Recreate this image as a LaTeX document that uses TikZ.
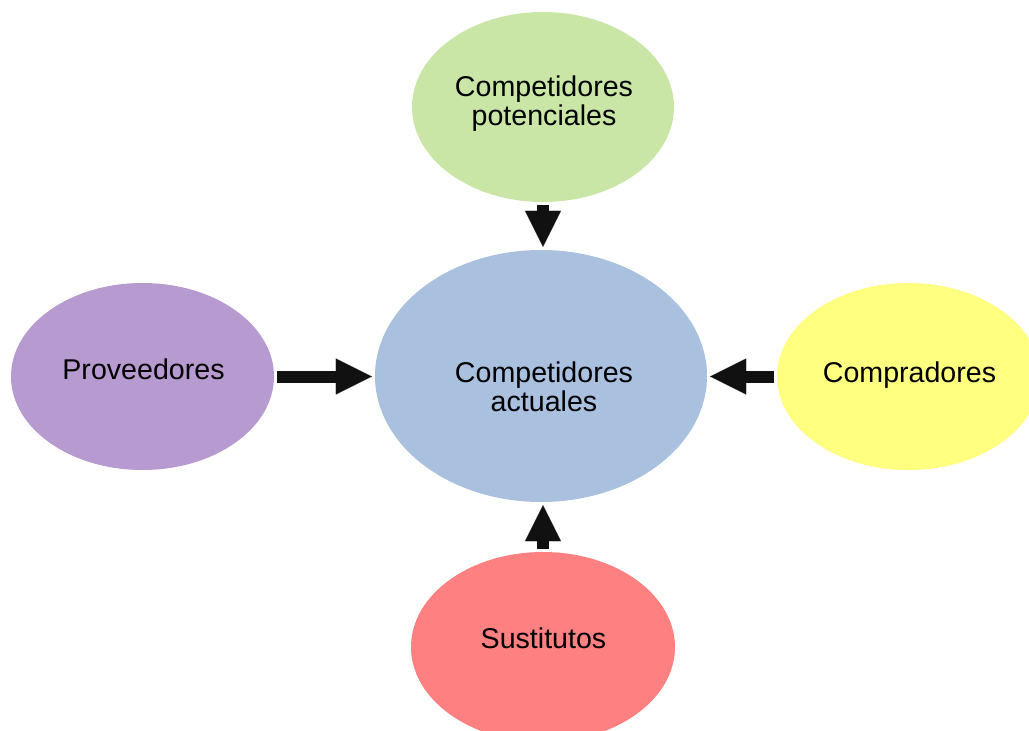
\documentclass[tikz,border=0pt]{standalone}
\usepackage{fontspec}
\setmainfont{Liberation Sans}
\usepackage{tikz}
\usetikzlibrary{shapes.geometric,arrows.meta}
\definecolor{verdeclaro}{RGB}{201,230,166}
\definecolor{azulclaro}{RGB}{169,192,223}
\definecolor{lila}{RGB}{183,154,208}
\definecolor{amarillo}{RGB}{255,255,128}
\definecolor{salmon}{RGB}{255,128,128}
\definecolor{casinegro}{RGB}{17,17,17}

\tikzset{
  blob/.style={ellipse, draw=none, inner sep=0pt},
  txt/.style={font=\fontsize{28.6}{29.5}\selectfont, align=center, inner sep=0pt},
  fuerza/.style={draw=casinegro, line width=12pt,
    -{Triangle[length=36pt, width=36pt, line width=0.1pt]},
    shorten <=3pt, shorten >=3pt}
}

\begin{document}
\begin{tikzpicture}[x=1pt, y=-1pt]
\useasboundingbox (0,0) rectangle (1029,731);
\clip (0,0) rectangle (1029,731);

\path (543,107) node[blob, fill=verdeclaro, minimum width=262pt, minimum height=190pt] (potenciales) {};
\path (541,376) node[blob, fill=azulclaro, minimum width=332pt, minimum height=252pt] (actuales) {};
\path (142.5,376.5) node[blob, fill=lila, minimum width=263pt, minimum height=187pt] (proveedores) {};
\path (908.5,376.5) node[blob, fill=amarillo, minimum width=263pt, minimum height=187pt] (compradores) {};
\path (543,647) node[blob, fill=salmon, minimum width=264pt, minimum height=190pt] (sustitutos) {};

\path (544,103.5) node[txt] (tpot) {Competidores\\potenciales};
\path (544,387) node[txt] (tact) {Competidores\\actuales};
\path (143.5,379) node[txt, anchor=base] (tprov) {Proveedores};
\path (909.5,382) node[txt, anchor=base] (tcomp) {Compradores};
\path (543.5,648) node[txt, anchor=base] (tsus) {Sustitutos};

\draw[fuerza] (potenciales.south) -- (potenciales.south |- actuales.north);
\draw[fuerza] (proveedores.east) -- (proveedores.east -| actuales.west);
\draw[fuerza] (compradores.west) -- (compradores.west -| actuales.east);
\draw[fuerza] (sustitutos.north) -- (sustitutos.north |- actuales.south);
\end{tikzpicture}
\end{document}
